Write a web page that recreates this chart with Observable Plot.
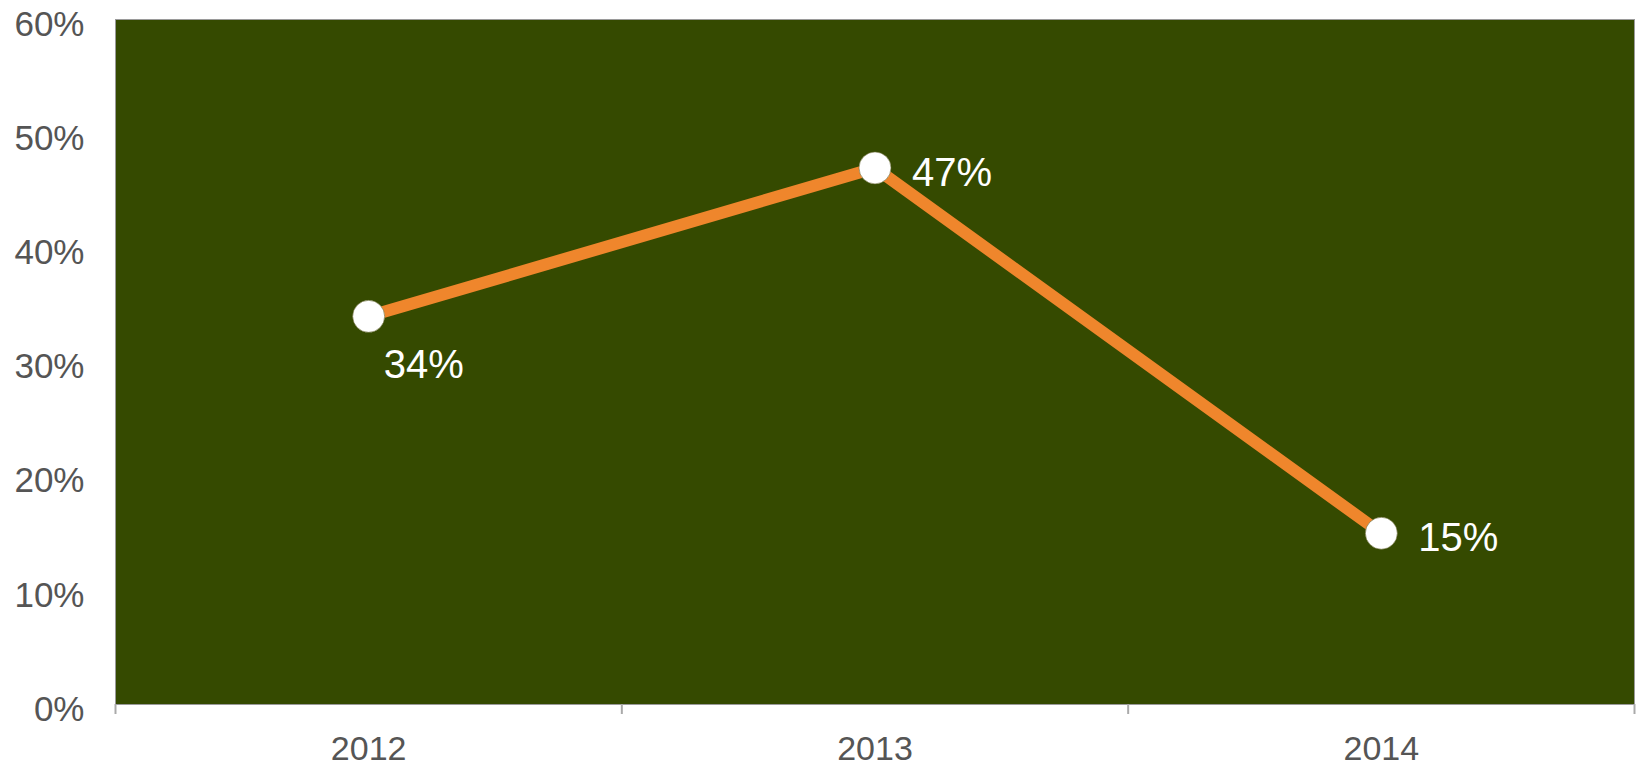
<!DOCTYPE html>
<html>
<head>
<meta charset="utf-8">
<script src="https://cdn.jsdelivr.net/npm/d3@7"></script>
<script src="https://cdn.jsdelivr.net/npm/@observablehq/plot@0.6"></script>
<style>
  html, body { margin: 0; padding: 0; background: #fff; }
  #chart svg { display: block; }
</style>
</head>
<body>
<div id="chart"></div>
<script>
const years = [2012, 2013, 2014];
const values = [0.34, 0.47, 0.15];
const yTicks = [0, 0.1, 0.2, 0.3, 0.4, 0.5, 0.6];

const data = years.map((year, i) => ({year, value: values[i]}));
const bounds = [...years.map(y => y - 0.5), years[years.length - 1] + 0.5];
const font = "'Liberation Sans', Arial, Helvetica, sans-serif";

const chart = Plot.plot({
  width: 1640,
  height: 766,
  marginLeft: 115,
  marginRight: 6,
  marginTop: 19,
  marginBottom: 62,
  style: {fontFamily: font, background: "#fff"},
  x: {type: "linear", domain: [bounds[0], bounds[bounds.length - 1]], label: null},
  y: {domain: [0, 0.6], label: null},
  marks: [
    Plot.frame({fill: "#354a00", stroke: "#9a9a9a", strokeWidth: 1}),
    Plot.ruleX(bounds, {y1: 0, y2: 0, stroke: "#aaa", strokeWidth: 2, insetBottom: -10}),
    Plot.axisX({ticks: years, tickSize: 0, tickPadding: 31, tickFormat: d => String(d), fontSize: 34, fill: "#555", label: null}),
    Plot.axisY({ticks: yTicks, tickSize: 0, tickPadding: 31, tickFormat: d3.format(".0%"), fontSize: 35, fill: "#555", dy: 5, label: null}),
    Plot.line(data, {x: "year", y: "value", stroke: "#ef862c", strokeWidth: 12}),
    Plot.dot(data, {x: "year", y: "value", r: 16, fill: "#fff", stroke: "#6b6b3a", strokeWidth: 0.6}),
    Plot.text(data.filter((d, i) => i === 0), {x: "year", y: "value", text: d => d3.format(".0%")(d.value), fill: "#fff", fontSize: 40, textAnchor: "start", dx: 15, dy: 49}),
    Plot.text(data.filter((d, i) => i > 0), {x: "year", y: "value", text: d => d3.format(".0%")(d.value), fill: "#fff", fontSize: 40, textAnchor: "start", dx: 37, dy: 5})
  ]
});
document.getElementById("chart").appendChild(chart);
</script>
</body>
</html>
